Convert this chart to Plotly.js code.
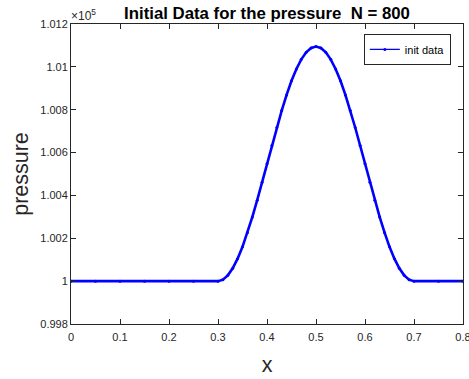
<!DOCTYPE html>
<html><head><meta charset="utf-8">
<script src="https://cdn.plot.ly/plotly-3.0.1.min.js"></script>
<style>html,body{margin:0;padding:0;background:#fff}#chart{width:469px;height:379px}</style>
</head><body><div id="chart"></div>
<script>
// x positions
const xPos = [0, 0.05, 0.1, 0.15, 0.2, 0.25, 0.3,
  0.31, 0.32, 0.33, 0.34, 0.35, 0.36, 0.37, 0.38, 0.39, 0.4,
  0.41, 0.42, 0.43, 0.44, 0.45, 0.46, 0.47, 0.48, 0.49, 0.5,
  0.51, 0.52, 0.53, 0.54, 0.55, 0.56, 0.57, 0.58, 0.59, 0.6,
  0.61, 0.62, 0.63, 0.64, 0.65, 0.66, 0.67, 0.68, 0.69, 0.7,
  0.75, 0.8];
// pressure values in Pa
const pressure = [100000, 100000, 100000, 100000, 100000, 100000, 100000,
  100007, 100027, 100060, 100105, 100160, 100226, 100299, 100378, 100462, 100548,
  100633, 100717, 100796, 100869, 100935, 100990, 101035, 101068, 101088, 101095,
  101088, 101068, 101035, 100990, 100935, 100869, 100796, 100717, 100633, 100548,
  100462, 100378, 100299, 100226, 100160, 100105, 100060, 100027, 100007, 100000,
  100000, 100000];
const seriesName = 'init data';
const yTicks = [0.998, 1, 1.002, 1.004, 1.006, 1.008, 1.01, 1.012];
const yTickText = ['0.998', '1', '1.002', '1.004', '1.006', '1.008', '1.01', '1.012'];
const xTicks = [0, 0.1, 0.2, 0.3, 0.4, 0.5, 0.6, 0.7, 0.8];
const xTickText = ['0', '0.1', '0.2', '0.3', '0.4', '0.5', '0.6', '0.7', '0.8'];

const FONT = 'Liberation Sans, Arial, sans-serif';
const scale = 1e5;
const trace = {
  x: xPos,
  y: pressure.map(v => v / scale),
  type: 'scatter',
  mode: 'lines+markers',
  name: seriesName,
  legendgroup: 'g',
  showlegend: false,
  line: {color: '#0000ff', width: 2.6},
  marker: {color: '#0000ff', size: 3},
  hoverinfo: 'skip'
};
// legend entry (thin line with dot marker, as in the reference legend)
const legendTrace = {
  x: [null], y: [null],
  type: 'scatter', mode: 'lines+markers', name: seriesName, legendgroup: 'g',
  line: {color: '#0000ff', width: 1.2},
  marker: {color: '#0000ff', size: 3},
  hoverinfo: 'skip'
};
const axisCommon = {
  showline: true, linecolor: '#262626', linewidth: 1,
  mirror: 'allticks', ticks: 'inside', ticklen: 5, tickwidth: 1, tickcolor: '#262626',
  showgrid: false, zeroline: false, ticklabeloverflow: 'allow',
  tickfont: {family: FONT, size: 11, color: '#262626'}
};
const layout = {
  width: 469, height: 379,
  margin: {l: 71, r: 6, t: 24, b: 55},
  paper_bgcolor: '#fff', plot_bgcolor: '#fff',
  showlegend: true,
  title: {text: '<b>Initial Data for the pressure  N = 800</b>',
    font: {family: FONT, size: 16.8, color: '#000'},
    x: 0.5, xref: 'paper', xanchor: 'center', y: 0.966, yref: 'container', yanchor: 'middle'},
  xaxis: Object.assign({}, axisCommon, {
    range: [0, 0.8], tickvals: xTicks, ticktext: xTickText, ticklabelstandoff: 3,
    title: {text: 'x', font: {family: FONT, size: 21.5, color: '#262626'}, standoff: 14}
  }),
  yaxis: Object.assign({}, axisCommon, {
    range: [0.998, 1.012], tickvals: yTicks, ticktext: yTickText,
    title: {text: 'pressure', font: {family: FONT, size: 21.5, color: '#262626'}, standoff: 5}
  }),
  legend: {
    x: 0.969, y: 0.967, xanchor: 'right', yanchor: 'top',
    bgcolor: '#fff', bordercolor: '#262626', borderwidth: 1,
    font: {family: FONT, size: 11, color: '#000'},
    itemwidth: 30, tracegroupgap: 0
  },
  annotations: [{
    text: '×10<sup>5</sup>', xref: 'paper', yref: 'paper', x: 0, y: 1,
    xanchor: 'left', yanchor: 'bottom', showarrow: false, yshift: -1, xshift: -2,
    font: {family: FONT, size: 12, color: '#262626'}
  }]
};
Plotly.newPlot('chart', [trace, legendTrace], layout, {displayModeBar: false, staticPlot: true});
</script></body></html>
